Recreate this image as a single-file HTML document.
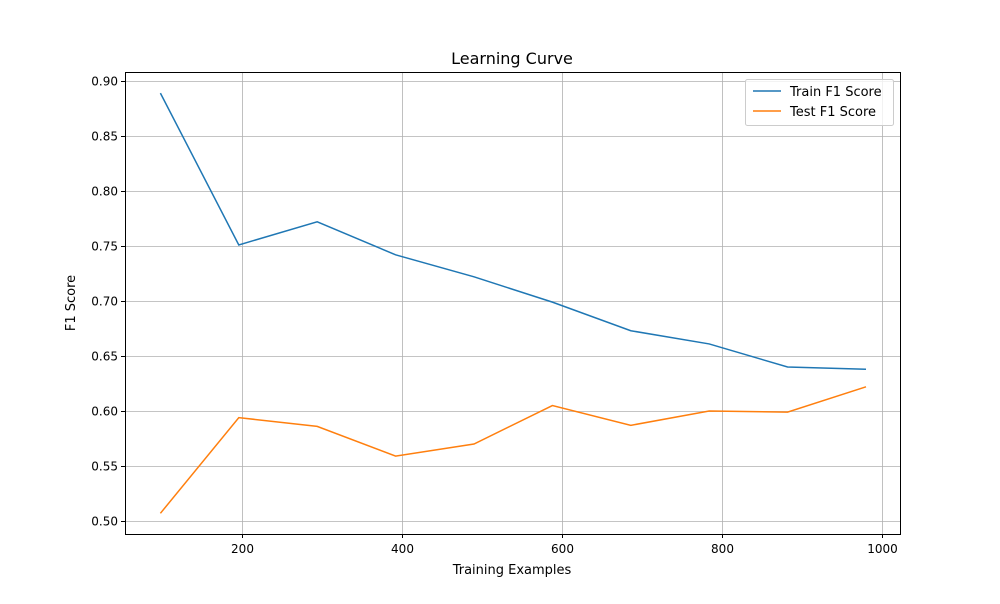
<!DOCTYPE html>
<html><head><meta charset="utf-8"><style>
body{margin:0;background:#fff;font-family:"DejaVu Sans","Liberation Sans",sans-serif;}
svg text{font-family:"DejaVu Sans","Liberation Sans",sans-serif;}
</style></head><body>
<svg id="chart" width="1000" height="600" xmlns="http://www.w3.org/2000/svg">
<rect width="1000" height="600" fill="#fff"/>
<g id="grid"></g>
<g id="series"></g>
<rect x="125.5" y="72.5" width="775" height="462" fill="none" stroke="#000" stroke-width="1"/>
<g id="ticks"></g>
<text x="512" y="64" text-anchor="middle" font-size="16">Learning Curve</text>
<text x="512" y="574" text-anchor="middle" font-size="13">Training Examples</text>
<text transform="translate(75,303) rotate(-90)" text-anchor="middle" font-size="13">F1 Score</text>
<g>
<rect x="745.5" y="79.5" width="148" height="46" rx="2" fill="#fff" fill-opacity="0.8" stroke="#ccc"/>
<line x1="753" y1="91" x2="781" y2="91" stroke="#1f77b4" stroke-width="1.5"/>
<text x="790" y="96" font-size="13">Train F1 Score</text>
<line x1="753" y1="111" x2="781" y2="111" stroke="#ff7f0e" stroke-width="1.5"/>
<text x="790" y="116" font-size="13">Test F1 Score</text>
</g>
</svg>
<script>
const sizes=[98,196,294,392,490,588,686,784,882,980];
const trainScores=[0.889,0.751,0.772,0.742,0.722,0.699,0.673,0.661,0.640,0.638];
const testScores=[0.507,0.594,0.586,0.559,0.570,0.605,0.587,0.600,0.599,0.622];
const xTicks=[200,400,600,800,1000];
const yTicks=[0.50,0.55,0.60,0.65,0.70,0.75,0.80,0.85,0.90];
const NS="http://www.w3.org/2000/svg";
const X0=125,X1=900,Y0=534,Y1=72,xmin=53.75,xmax=1022.5,ymin=0.4882,ymax=0.9082;
function xs(v){return X0+(v-xmin)/(xmax-xmin)*(X1-X0);}
function ys(v){return Y0-(v-ymin)/(ymax-ymin)*(Y0-Y1);}
function mk(t,a,p){const e=document.createElementNS(NS,t);for(const k in a)e.setAttribute(k,a[k]);p.appendChild(e);return e;}
const grid=document.getElementById('grid'),ticks=document.getElementById('ticks'),ser=document.getElementById('series');
xTicks.forEach(v=>{const x=Math.round(xs(v))+0.5;
 const g=mk('line',{x1:x,x2:x,y1:Y1,y2:Y0,stroke:'#b0b0b0','stroke-width':0.8},grid);
 
 
 const t=mk('line',{x1:x,x2:x,y1:Y0,y2:Y0+4,stroke:'#000'},ticks);
 
 
 const l=mk('text',{x:x,y:Y0+19,'text-anchor':'middle','font-size':12},ticks);l.textContent=v;
 
 
});
yTicks.forEach(v=>{const y=Math.round(ys(v))+0.5;
 const g=mk('line',{x1:X0,x2:X1,y1:y,y2:y,stroke:'#b0b0b0','stroke-width':0.8},grid);
 
 
 const t=mk('line',{x1:X0-4,x2:X0,y1:y,y2:y,stroke:'#000'},ticks);
 
 
 const l=mk('text',{x:X0-7,y:y+4,'text-anchor':'end','font-size':12},ticks);l.textContent=v.toFixed(2);
 
 
});
function line(vals,color,name){
 const p=mk('polyline',{points:sizes.map((s,i)=>xs(s)+','+ys(vals[i])).join(' '),fill:'none',stroke:color,'stroke-width':1.5},ser);
 
 
}
line(trainScores,'#1f77b4','train-f1-line');
line(testScores,'#ff7f0e','test-f1-line');
</script>
</body></html>
